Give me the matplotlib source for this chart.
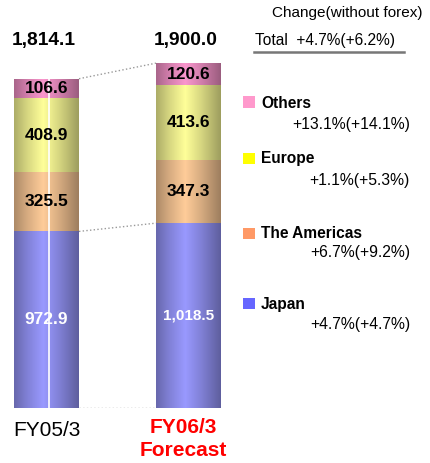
import numpy as np
import matplotlib
matplotlib.use('Agg')
import matplotlib.pyplot as plt

plt.rcParams['font.family'] = ['Liberation Sans', 'DejaVu Sans']

years = ['FY05/3', 'FY06/3\nForecast']
regions = ['Japan', 'The Americas', 'Europe', 'Others']
japan = [972.9, 1018.5]
americas = [325.5, 347.3]
europe = [408.9, 413.6]
others = [106.6, 120.6]
totals = [1814.1, 1900.0]
changes = ['+4.7%(+4.7%)', '+6.7%(+9.2%)', '+1.1%(+5.3%)', '+13.1%(+14.1%)']
total_change = 'Total  +4.7%(+6.2%)'

# bar colours (light centre) and legend swatch colours
bar_colors = [(153, 153, 255), (255, 204, 153), (255, 255, 153), (250, 150, 205)]
swatch_colors = ['#6666ff', '#ff9966', '#ffff00', '#ff99cc']

W, H = 431, 463
fig = plt.figure(figsize=(W / 100, H / 100), dpi=100)

# axes laid out so that the bars land where they are in the reference
px_per_unit = 0.1815
ax = fig.add_axes([0, 55 / H, 1, 2000 * px_per_unit / H])
ax.set_axis_off()
x_px = 142.0
ax.set_xlim(-46.5 / x_px, (W - 46.5) / x_px)
ax.set_ylim(0, 2000)

x = np.arange(len(years))
width = 65 / x_px
series = [japan, americas, europe, others]

prof_t = np.linspace(0, 1, 65)
prof = np.interp(prof_t, [0, 0.2, 0.45, 0.7, 1], [0.68, 0.84, 1.0, 0.84, 0.62])

bottom = np.zeros(len(years))
for vals, col in zip(series, bar_colors):
    bars = ax.bar(x, vals, width, bottom=bottom, color='none', edgecolor='none')
    img = np.array(col)[None, None, :] / 255.0 * prof[None, :, None]
    img = np.clip(img, 0, 1)
    for b in bars:
        im = ax.imshow(img, extent=[b.get_x(), b.get_x() + b.get_width(),
                                    b.get_y(), b.get_y() + b.get_height()],
                       aspect='auto', interpolation='bilinear', zorder=1)
        im.set_clip_path(b)
    bottom = bottom + np.array(vals)

ax.set_xlim(-46.5 / x_px, (W - 46.5) / x_px)
ax.set_ylim(0, 2000)

# white line through the first bar
ax.vlines(x[0] + 0.015, 0, totals[0], color='white', lw=1.2, zorder=3)

# segment labels
bottom = np.zeros(len(years))
for k, vals in enumerate(series):
    for i, v in enumerate(vals):
        lab = f'{v:,.1f}'
        if k == 0:
            fs = 12.5 if i == 0 else 11
            ax.text(x[i], bottom[i] + v / 2, lab, ha='center', va='center',
                    color='white', fontsize=fs, fontweight='bold', zorder=4)
        else:
            ax.text(x[i], bottom[i] + v / 2, lab, ha='center', va='center',
                    color='black', fontsize=12.5, fontweight='bold', zorder=4)
    bottom = bottom + np.array(vals)

# totals above bars (same height for both)
for i, t in enumerate(totals):
    ax.text(x[i] - 0.02, 2027, f'{t:,.1f}', ha='center', va='center',
            fontsize=13.8, fontweight='bold', clip_on=False)

# dotted connectors between bars
x_r = x[0] + width / 2
x_l = x[1] - width / 2
ax.plot([x_r, x_l], [totals[0], totals[1]], ls=':', color='#999999', lw=1)
ax.plot([x_r, x_l], [japan[0], japan[1]], ls=':', color='#999999', lw=1)
ax.plot([x_r, x_l], [0, 0], ls=':', color='#999999', lw=1)

# category labels
ax.text(x[0], -125, years[0], ha='center', va='center', fontsize=15)
ax.text(x[1] - 0.04, -110, years[1].split('\n')[0], ha='center', va='center',
        fontsize=15, fontweight='bold', color='#ff0000')
ax.text(x[1] - 0.04, -235, years[1].split('\n')[1], ha='center', va='center',
        fontsize=15, fontweight='bold', color='#ff0000')

# right-hand legend
def fy(y):
    return 1 - y / H

fig.text(423 / W, fy(13), 'Change(without forex)', ha='right', va='center', fontsize=11)
fig.text(255 / W, fy(41), total_change, ha='left', va='center', fontsize=11.2)
fig.add_artist(plt.Line2D([254 / W, 404 / W], [fy(52), fy(52)], color='#777777', lw=1.8))

leg_y = [303, 233, 158, 102]
chg_y = [324, 253, 180, 124]
for k in range(len(regions)):
    fig.patches.append(plt.Rectangle((243 / W, fy(leg_y[k] + 5.5)), 12 / W, 11 / H,
                                     transform=fig.transFigure, facecolor=swatch_colors[k],
                                     edgecolor='none'))
    fig.text(261 / W, fy(leg_y[k] + 1), regions[k], ha='left', va='center',
             fontsize=11.2, fontweight='bold')
    fig.text(410 / W, fy(chg_y[k]), changes[k], ha='right', va='center', fontsize=11.3)

fig.savefig('out.png', dpi=100)
